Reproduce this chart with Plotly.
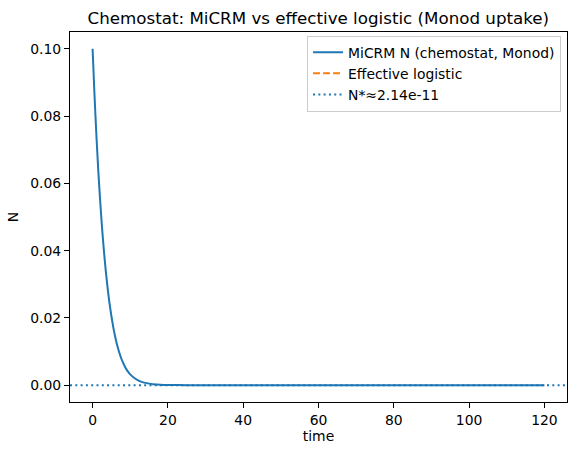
import plotly.graph_objects as go

# Data
time = [0, 0.5, 1, 1.5, 2, 2.5, 3, 3.5, 4, 4.5, 5, 5.5, 6, 6.5, 7, 7.5, 8, 8.5, 9, 9.5, 10,
        11, 12, 13, 14, 15, 16, 18, 20, 25, 30, 40, 60, 80, 100, 120]
micrm_N = [0.100, 0.0865, 0.0745, 0.0640, 0.0550, 0.0470, 0.0400, 0.0340, 0.0288, 0.0243, 0.0205,
           0.0172, 0.0144, 0.0120, 0.0100, 0.0083, 0.0069, 0.0057, 0.0047, 0.0039, 0.0032,
           0.0022, 0.0015, 0.0010, 0.00068, 0.00046, 0.00031, 0.00014, 0.00006, 0.00001, 0.000002,
           0.0, 0.0, 0.0, 0.0, 0.0]
logistic_N = [None] * len(time)
N_star = 2.14e-11
x_range = [-6, 126]
y_range = [-0.005, 0.105]

blue = "#1f77b4"
orange = "#ff7f0e"
FS = 13.9
TS = 16.7

fig = go.Figure()
fig.add_trace(go.Scatter(x=time, y=micrm_N, mode="lines", name="MiCRM N (chemostat, Monod)",
                         line=dict(color=blue, width=2, shape="spline", smoothing=0.6)))
fig.add_trace(go.Scatter(x=time, y=logistic_N, mode="lines", name="Effective logistic",
                         line=dict(color=orange, width=2, dash="7px,3px")))
fig.add_trace(go.Scatter(x=x_range, y=[N_star, N_star], mode="lines", name="N*≈2.14e-11",
                         line=dict(color=blue, width=2, dash="2px,3.3px")))

axis_common = dict(showline=True, linecolor="black", linewidth=1, mirror=True,
                   ticks="outside", ticklen=5, tickcolor="black", showgrid=False, zeroline=False,
                   tickfont=dict(family="DejaVu Sans", size=FS, color="black"))

fig.update_layout(
    width=576, height=455,
    margin=dict(l=70, r=9, t=32, b=53),
    paper_bgcolor="white", plot_bgcolor="white",
    title=dict(text="Chemostat: MiCRM vs effective logistic (Monod uptake)",
               x=(70 + 566.7) / 2 / 576, xanchor="center", y=1 - 18 / 455, yanchor="middle",
               font=dict(family="DejaVu Sans", size=TS, color="black")),
    xaxis=dict(range=x_range, tickvals=[0, 20, 40, 60, 80, 100, 120],
               title=dict(text="time", font=dict(family="DejaVu Sans", size=FS, color="black"), standoff=4),
               **axis_common),
    yaxis=dict(range=y_range, tickvals=[0, 0.02, 0.04, 0.06, 0.08, 0.10], tickformat=".2f",
               title=dict(text="N", font=dict(family="DejaVu Sans", size=FS, color="black"), standoff=8),
               **axis_common),
    legend=dict(x=0.988, xanchor="right", y=0.99, yanchor="top",
                bgcolor="rgba(255,255,255,0.8)", bordercolor="#cccccc", borderwidth=1,
                font=dict(family="DejaVu Sans", size=FS, color="black"),
                tracegroupgap=0, itemwidth=30),
    showlegend=True,
)

fig.write_html("out.html")
